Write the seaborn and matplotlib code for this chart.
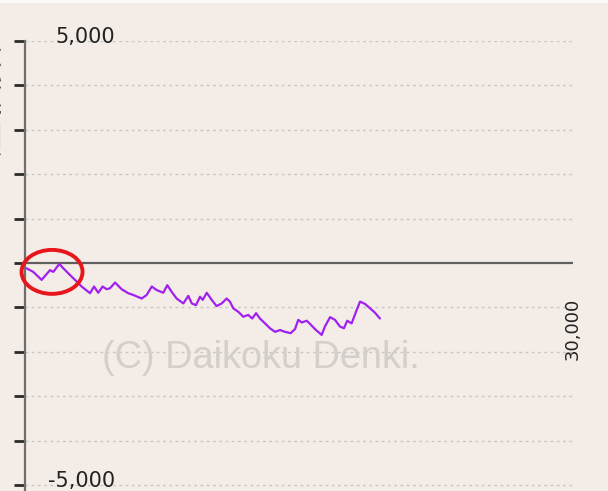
import matplotlib
matplotlib.use("Agg")
import matplotlib.pyplot as plt
from matplotlib.patches import Ellipse, Rectangle
import seaborn as sns
import pandas as pd

# games played vs coin difference
games = [90, 450, 910, 1370, 1550, 1880, 2100, 2460, 2740, 3100, 3560, 3780,
         4010, 4250, 4470, 4650, 4930, 5290, 5650, 5930, 6390, 6660, 6940,
         7210, 7570, 7790, 8030, 8300, 8670, 8940, 9130, 9360, 9580, 9730,
         9950, 10220, 10490, 10770, 11040, 11220, 11400, 11680, 11950, 12220,
         12440, 12650, 12860, 13140, 13410, 13690, 13960, 14230, 14540, 14780,
         14960, 15150, 15420, 15600, 15880, 16240, 16420, 16700, 16970, 17240,
         17460, 17640, 17880, 18120, 18340, 18610, 18890, 19160, 19430]
diff = [-120, -200, -380, -160, -200, -20, -120, -270, -380, -530, -680, -530,
        -670, -530, -590, -570, -440, -590, -680, -720, -800, -720, -530,
        -610, -670, -500, -650, -800, -910, -740, -910, -950, -760, -830,
        -670, -830, -970, -910, -800, -870, -1020, -1100, -1210, -1170,
        -1250, -1130, -1250, -1360, -1470, -1550, -1510, -1550, -1580, -1490,
        -1280, -1340, -1300, -1370, -1490, -1620, -1430, -1220, -1280, -1430,
        -1470, -1300, -1360, -1100, -870, -920, -1020, -1120, -1250]

y_ticks = [-5000, -4000, -3000, -2000, -1000, 0, 1000, 2000, 3000, 4000, 5000]
x_max = 30000
watermark = "(C) Daikoku Denki."
y_title = "差枚数"

df = pd.DataFrame({"games": games, "diff": diff})

bg = "#f4ece7"
sns.set_style("white")
plt.rcParams["font.family"] = ["DejaVu Sans", "Noto Sans CJK JP"]

fig = plt.figure(figsize=(6.08, 4.91), dpi=100, facecolor=bg)
ax = fig.add_axes([25 / 608, 0.0, 548 / 608, 450 / 491])
ax.set_facecolor(bg)

# white strip across the very top
fig.patches.append(Rectangle((0, 1 - 3 / 491), 1, 3 / 491, transform=fig.transFigure,
                             facecolor="#f9f9f9", edgecolor="none"))

ax.set_xlim(0, x_max)
ax.set_ylim(-5135, 5000)

# dotted grid
for v in y_ticks:
    if v != 0:
        ax.axhline(v, color="#c8c8c2", lw=1.0, ls=(0, (2, 2.5)), zorder=1)
ax.axhline(0, color="#5f5f5f", lw=1.6, zorder=2)

sns.lineplot(data=df, x="games", y="diff", ax=ax, color="#a020f0", lw=1.6,
             zorder=4, legend=False)

# red circle mark at the start
ax.add_patch(Ellipse((1480, -200), 3340, 990, fill=False, edgecolor="#e8151d",
                     lw=2.8, zorder=5, clip_on=False))

# watermark
ax.text(4200, -2140, watermark, fontsize=27.3, color="#d4cfcb",
        family="Liberation Sans", va="center", ha="left", zorder=3)

# labels inside the plot
ax.text(4930, 5080, "5,000", fontsize=15, ha="right", va="center", color="#222222")
ax.text(4930, -4900, "-5,000", fontsize=15, ha="right", va="center", color="#222222")
ax.text(x_max, -1490, "30,000", fontsize=13, rotation=90, ha="center",
        va="center", color="#222222", clip_on=False)

# cut-off vertical title at the left edge
fig.text(-13 / 608, 1 - 100 / 491, y_title, rotation=90, fontsize=27,
         color="#555555", ha="center", va="center",
         family=["Noto Sans CJK JP", "DejaVu Sans"])

ax.set_yticks(y_ticks)
ax.set_yticklabels([])
ax.set_xticks([])
ax.set_xlabel("")
ax.set_ylabel("")
ax.tick_params(axis="y", direction="out", length=8, width=2, color="#2a2a2a",
               left=True)
for s in ["top", "right", "bottom"]:
    ax.spines[s].set_visible(False)
ax.spines["left"].set_color("#6e6e6e")
ax.spines["left"].set_linewidth(1.6)
ax.spines["left"].set_bounds(-5135, 5000)

fig.savefig("out.png", dpi=100, facecolor=bg)
